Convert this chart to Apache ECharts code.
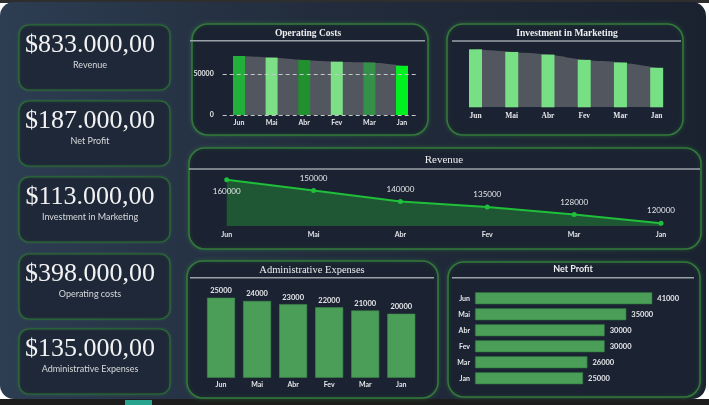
<!DOCTYPE html>
<html><head><meta charset="utf-8">
<script src="https://cdn.jsdelivr.net/npm/echarts@6/dist/echarts.min.js"></script>
<style>html,body{margin:0;padding:0;background:#ffffff;}#c{width:709px;height:405px;}</style>
</head><body><div id="c"></div>
<script>
// ---- data ----
const months = ['Jun', 'Mai', 'Abr', 'Fev', 'Mar', 'Jan'];
const operatingCosts = [72000, 70000, 67000, 65000, 64000, 60000];
const marketing = [22000, 21000, 20000, 18000, 17000, 15000];
const revenue = [160000, 150000, 140000, 135000, 128000, 120000];
const adminExpenses = [25000, 24000, 23000, 22000, 21000, 20000];
const netProfit = [41000, 35000, 30000, 30000, 26000, 25000];
const kpiValues = ['$833.000,00', '$187.000,00', '$113.000,00', '$398.000,00', '$135.000,00'];
const kpiLabels = ['Revenue', 'Net Profit', 'Investment in Marketing', 'Operating costs', 'Administrative Expenses'];
const panelTitles = ['Operating Costs', 'Investment in Marketing', 'Revenue', 'Administrative Expenses', 'Net Profit'];
const opTicks = [0, 50000];

// ---- style ----
const opBarColors = ['#22b03a', '#7ddf86', '#21902f', '#7ddf86', '#35904a', '#00f020'];
const labelFont = 'Lato, "Open Sans", sans-serif';
const serif = '"Liberation Serif", "DejaVu Serif", serif';
const lblColor = '#e4e6ea';

const chart = echarts.init(document.getElementById('c'), null, {renderer: 'canvas'});

const g = [];
// outer strips
g.push({type: 'rect', z: -100, shape: {x: 0, y: 0, width: 709, height: 3}, style: {fill: '#2e2e2e'}});
g.push({type: 'rect', z: -100, shape: {x: 0, y: 399, width: 709, height: 6}, style: {fill: '#1d1d1d'}});
g.push({type: 'rect', z: -99, shape: {x: 125, y: 400, width: 27, height: 5}, style: {fill: '#27a38e'}});
// main background
g.push({type: 'rect', z: -90, shape: {x: 0, y: 2, width: 706, height: 397, r: 14},
  style: {fill: new echarts.graphic.LinearGradient(0, 0, 1, 0, [
    {offset: 0, color: '#2d3d52'}, {offset: 0.45, color: '#222c3c'}, {offset: 1, color: '#1a2230'}])}});

// KPI cards
const cardTops = [25, 101, 177, 254, 329];
cardTops.forEach((t, i) => {
  g.push({type: 'rect', z: -80, shape: {x: 19, y: t, width: 151, height: 65, r: 10},
    style: {fill: '#1f2838', stroke: '#2a6e31', lineWidth: 1.2, shadowBlur: 3, shadowColor: 'rgba(60,160,70,0.3)'}});
  g.push({type: 'text', z: 50, x: 90, y: t + 20,
    style: {text: kpiValues[i], fill: '#f2f2f2', font: '26px ' + serif, textAlign: 'center', textVerticalAlign: 'middle'}});
  g.push({type: 'text', z: 50, x: 90, y: t + 40,
    style: {text: kpiLabels[i], fill: '#d8dadd', font: '9px ' + labelFont, textAlign: 'center', textVerticalAlign: 'middle'}});
});

// chart panels
const panels = [
  {x: 192, y: 24, w: 236, h: 111, sepY: 40.7, sx1: 190, sx2: 425, tx: 308, ty: 33.5, font: 'bold 9.5px ' + serif},
  {x: 447, y: 24, w: 236, h: 111, sepY: 41, sx1: 452, sx2: 681, tx: 567, ty: 33.5, font: 'bold 9.5px ' + serif},
  {x: 189, y: 148, w: 512, h: 101, sepY: 169, sx1: 189, sx2: 700, tx: 444, ty: 160.5, font: '11px ' + serif},
  {x: 187, y: 261, w: 251, h: 137, sepY: 277.7, sx1: 190, sx2: 434, tx: 312, ty: 270, font: '10.5px ' + serif},
  {x: 448, y: 262, w: 252, h: 135, sepY: 277.7, sx1: 452, sx2: 694, tx: 573, ty: 269, font: 'bold 9px ' + labelFont}
];
panels.forEach((p, i) => {
  g.push({type: 'rect', z: -80, shape: {x: p.x, y: p.y, width: p.w, height: p.h, r: 16},
    style: {fill: '#1b2231', stroke: '#33793a', lineWidth: 1.6, shadowBlur: 4, shadowColor: 'rgba(60,170,70,0.3)'}});
  g.push({type: 'line', z: -70, shape: {x1: p.sx1, y1: p.sepY, x2: p.sx2, y2: p.sepY},
    style: {stroke: '#9ca2aa', lineWidth: 1.5}});
  g.push({type: 'text', z: 50, x: p.tx, y: p.ty,
    style: {text: panelTitles[i], fill: '#eceef0', font: p.font, textAlign: 'center', textVerticalAlign: 'middle'}});
});

const catAxisLabel = (extra) => Object.assign({color: lblColor, fontSize: 7, fontWeight: 'bold', fontFamily: labelFont}, extra || {});

const option = {
  animation: false,
  graphic: {elements: g},
  grid: [
    {left: 222.7, right: 290.7, top: 49.4, bottom: 290},
    {left: 457.4, right: 34.2, top: 41.4, bottom: 297.7},
    {left: 226.7, right: 48, top: 179.7, bottom: 179},
    {left: 203, right: 289.7, top: 297.7, bottom: 27.3},
    {left: 475, right: 56.7, top: 290.3, bottom: 18.7}
  ],
  xAxis: [
    {gridIndex: 0, type: 'category', data: months, axisLine: {show: false}, axisTick: {show: false},
      axisLabel: catAxisLabel({margin: 4})},
    {gridIndex: 1, type: 'category', data: months, axisLine: {show: false}, axisTick: {show: false},
      axisLabel: catAxisLabel({margin: 5, fontFamily: serif, fontSize: 7.5})},
    {gridIndex: 2, type: 'category', data: months, boundaryGap: false, axisLine: {show: false}, axisTick: {show: false},
      axisLabel: catAxisLabel({margin: 5})},
    {gridIndex: 3, type: 'category', data: months, axisLine: {show: false}, axisTick: {show: false},
      axisLabel: catAxisLabel({margin: 4})},
    {gridIndex: 4, type: 'value', min: 0, max: 41000, show: false, splitLine: {show: false}}
  ],
  yAxis: [
    {gridIndex: 0, type: 'value', min: 0, max: 80000, interval: 50000, splitLine: {show: false},
      axisLine: {show: false}, axisTick: {show: false},
      axisLabel: {color: lblColor, fontSize: 7, fontWeight: 'bold', fontFamily: labelFont, margin: 9,
        showMaxLabel: false, formatter: v => (opTicks.indexOf(v) >= 0 ? String(v) : '')}},
    {gridIndex: 1, type: 'value', min: 0, max: 25000, show: false, splitLine: {show: false}},
    {gridIndex: 2, type: 'value', min: 117500, max: 160000, show: false, splitLine: {show: false}},
    {gridIndex: 3, type: 'value', min: 0, max: 25000, show: false, splitLine: {show: false}},
    {gridIndex: 4, type: 'category', data: months, inverse: true, axisLine: {show: false}, axisTick: {show: false},
      axisLabel: catAxisLabel({margin: 5})}
  ],
  series: [
    // Operating costs: grey area + bars
    {type: 'line', xAxisIndex: 0, yAxisIndex: 0, data: operatingCosts, smooth: 0.6, symbol: 'none', z: 1,
      lineStyle: {width: 0, color: '#52565e'}, areaStyle: {color: '#52565e', opacity: 1}},
    {type: 'bar', xAxisIndex: 0, yAxisIndex: 0, data: operatingCosts, barWidth: 12, z: 3,
      itemStyle: {color: p => opBarColors[p.dataIndex]},
      markLine: {silent: true, symbol: 'none', label: {show: false},
        lineStyle: {type: [4, 3], color: '#c4c7cc', width: 1},
        data: opTicks.map(v => ({yAxis: v}))}},
    // Investment in marketing
    {type: 'line', xAxisIndex: 1, yAxisIndex: 1, data: marketing, smooth: 0.6, symbol: 'none', z: 1,
      lineStyle: {width: 0, color: '#52565e'}, areaStyle: {color: '#52565e', opacity: 1}},
    {type: 'bar', xAxisIndex: 1, yAxisIndex: 1, data: marketing, barWidth: 13, z: 3,
      itemStyle: {color: '#77df84'}},
    // Revenue
    {type: 'line', xAxisIndex: 2, yAxisIndex: 2, symbol: 'circle', symbolSize: 5,
      lineStyle: {width: 2, color: '#1fbf3a'}, itemStyle: {color: '#1fbf3a'},
      areaStyle: {color: '#1f5734', opacity: 1},
      label: {show: true, color: lblColor, fontSize: 8, fontFamily: labelFont, distance: 6,
        position: 'top'},
      data: revenue.map((v, i) => i === 0 ? {value: v, label: {position: 'bottom', distance: 5}} : v)},
    // Administrative expenses
    {type: 'bar', xAxisIndex: 3, yAxisIndex: 3, data: adminExpenses, barWidth: 28,
      itemStyle: {color: '#4a9e58', borderColor: '#3f8a4c', borderWidth: 0.6},
      label: {show: true, position: 'top', distance: 3, color: lblColor, fontSize: 7.5, fontWeight: 'bold', fontFamily: labelFont}},
    // Net profit
    {type: 'bar', xAxisIndex: 4, yAxisIndex: 4, data: netProfit, barWidth: 12,
      itemStyle: {color: '#4a9e58', borderColor: '#2f6f3a', borderWidth: 0.6},
      label: {show: true, position: 'right', distance: 5, color: lblColor, fontSize: 7.5, fontWeight: 'bold', fontFamily: labelFont}}
  ]
};
chart.setOption(option);
</script></body></html>
